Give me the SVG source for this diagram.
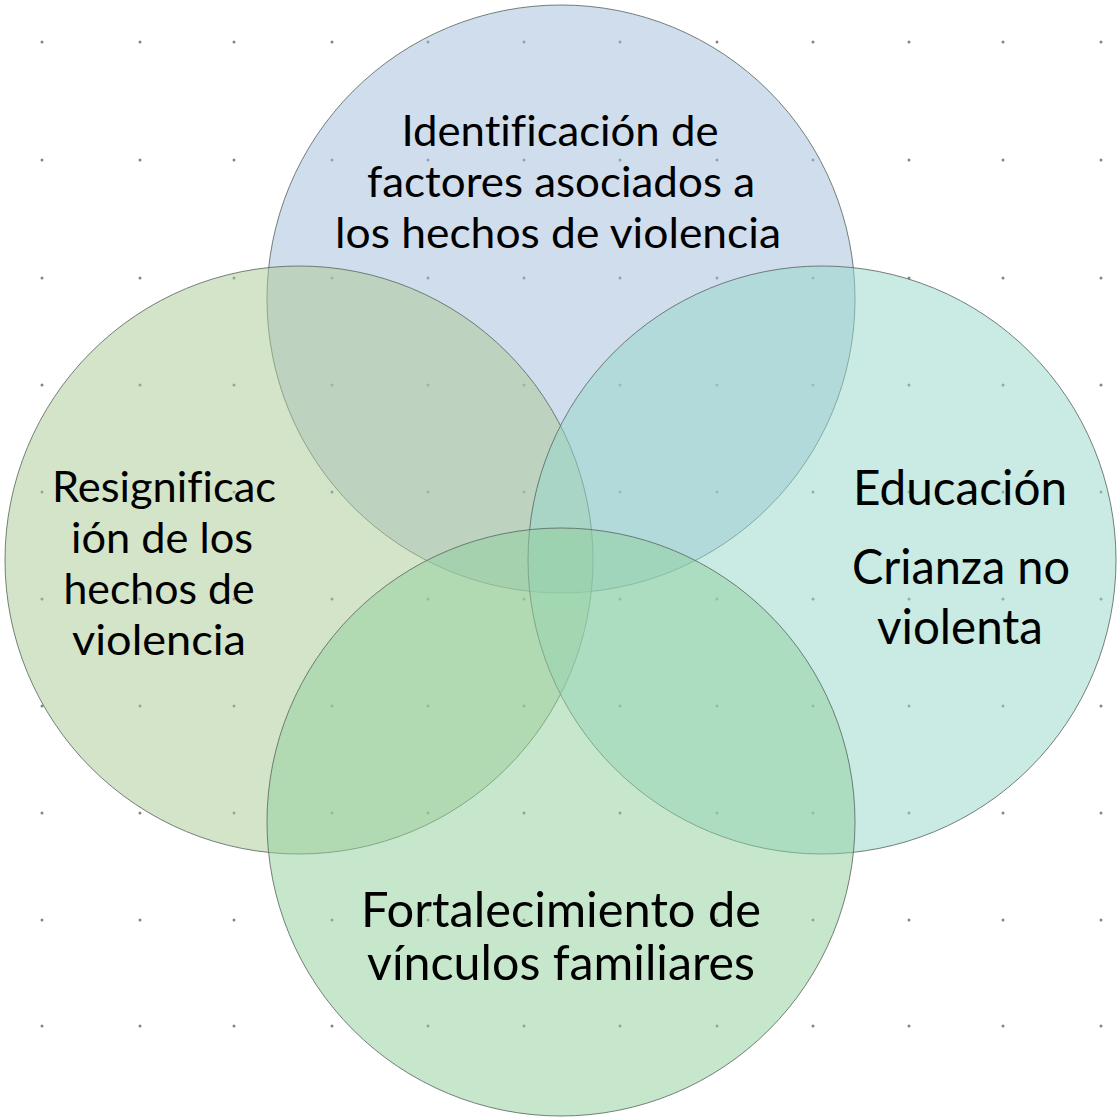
<svg xmlns="http://www.w3.org/2000/svg" width="1120" height="1119" viewBox="0 0 1120 1119">
  <defs>
    <style>
      .bg { fill: #ffffff; }
      .dot { fill: #858585; }
      .venn { fill-opacity: 0.5; stroke: #5d6a64; stroke-opacity: 0.85; stroke-width: 1; }
      .lbl { font-family: Lato, "Liberation Sans", sans-serif; fill: #000000; text-anchor: middle; font-variant-ligatures: none; }
      .s1 { font-size: 43px; }
      .s2 { font-size: 48px; }
    </style>
  </defs>
  <rect class="bg" x="0" y="0" width="1120" height="1119"/>
  <g id="background-dots" class="dot">
    <g id="row1"><circle cx="42" cy="42" r="1.5"/><circle cx="140" cy="42" r="1.5"/><circle cx="234" cy="42" r="1.5"/><circle cx="332" cy="42" r="1.5"/><circle cx="428" cy="42" r="1.5"/><circle cx="524" cy="42" r="1.5"/><circle cx="620" cy="42" r="1.5"/><circle cx="717" cy="42" r="1.5"/><circle cx="813" cy="42" r="1.5"/><circle cx="909" cy="42" r="1.5"/><circle cx="1003" cy="42" r="1.5"/><circle cx="1101" cy="42" r="1.5"/></g>
    <use href="#row1" y="118"/>
    <use href="#row1" y="236"/>
    <use href="#row1" y="343"/>
    <use href="#row1" y="450"/>
    <use href="#row1" y="557"/>
    <use href="#row1" y="664"/>
    <use href="#row1" y="771"/>
    <use href="#row1" y="878"/>
    <use href="#row1" y="984"/>
  </g>
  <g id="node-identificacion">
    <circle class="venn" cx="561" cy="299" r="294" fill="#a1bbdb"/>
    <text class="lbl s1" x="560" y="146" textLength="317" lengthAdjust="spacingAndGlyphs">Identificación de</text>
    <text class="lbl s1" x="561" y="197" textLength="388" lengthAdjust="spacingAndGlyphs">factores asociados a</text>
    <text class="lbl s1" x="558" y="248" textLength="446" lengthAdjust="spacingAndGlyphs">los hechos de violencia</text>
  </g>
  <g id="node-resignificacion">
    <circle class="venn" cx="299" cy="560" r="294" fill="#a9c993"/>
    <text class="lbl s1" x="164" y="502" textLength="224" lengthAdjust="spacingAndGlyphs">Resignificac</text>
    <text class="lbl s1" x="162" y="553" textLength="182" lengthAdjust="spacingAndGlyphs">ión de los</text>
    <text class="lbl s1" x="159" y="604" textLength="191" lengthAdjust="spacingAndGlyphs">hechos de</text>
    <text class="lbl s1" x="159" y="655" textLength="174" lengthAdjust="spacingAndGlyphs">violencia</text>
  </g>
  <g id="node-educacion">
    <circle class="venn" cx="822" cy="560" r="294" fill="#93d7c9"/>
    <text class="lbl s2" x="960" y="505" textLength="214" lengthAdjust="spacingAndGlyphs">Educación</text>
    <text class="lbl s2" x="961" y="584" textLength="218" lengthAdjust="spacingAndGlyphs">Crianza no</text>
    <text class="lbl s2" x="960" y="644" textLength="166" lengthAdjust="spacingAndGlyphs">violenta</text>
  </g>
  <g id="node-fortalecimiento">
    <circle class="venn" cx="561" cy="822" r="294" fill="#8fcf9b"/>
    <text class="lbl s2" x="561" y="927" textLength="400" lengthAdjust="spacingAndGlyphs">Fortalecimiento de</text>
    <text class="lbl s2" x="561" y="980" textLength="388" lengthAdjust="spacingAndGlyphs">vínculos familiares</text>
  </g>
</svg>
